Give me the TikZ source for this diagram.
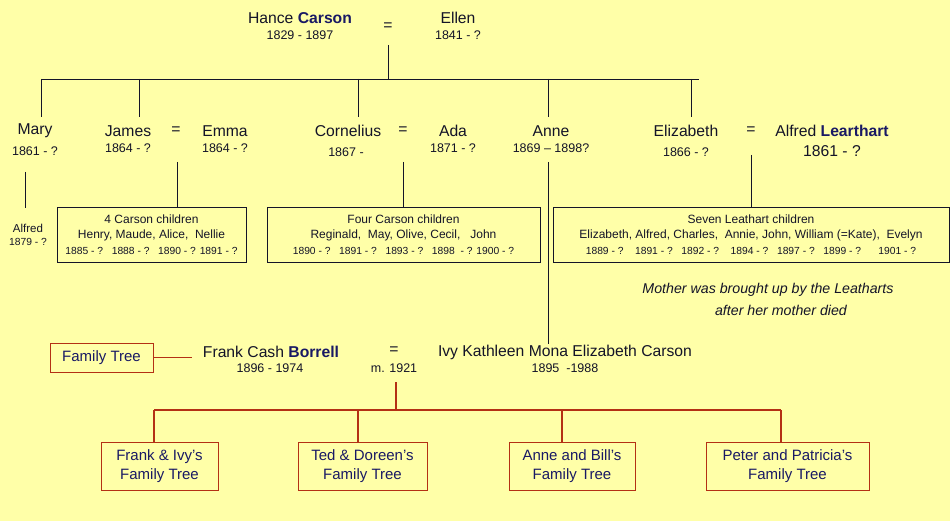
\documentclass[tikz,border=0pt]{standalone}
\usepackage{fontspec}
\setmainfont{Liberation Sans}
\usetikzlibrary{positioning}
\definecolor{paper}{RGB}{255,255,168}
\definecolor{ink}{RGB}{20,20,40}
\definecolor{navy}{RGB}{25,25,100}
\definecolor{rust}{RGB}{180,48,20}
\newcommand{\surname}[1]{\textbf{\color{navy}#1}}
\newcommand{\yrs}{\fontsize{10.3}{12}\selectfont}

\begin{document}
\begin{tikzpicture}[x=1pt,y=-1pt,
  nm/.style={inner sep=0pt,text=ink,font=\fontsize{15.7}{17}\selectfont},
  yr/.style={inner sep=0pt,text=ink,font=\fontsize{12.5}{14}\selectfont},
  kids/.style={draw=ink,line width=0.9pt,inner sep=0pt,minimum height=55,align=center,text=ink,font=\fontsize{12}{15.5}\selectfont},
  tree/.style={draw=rust,line width=1pt,inner sep=0pt,align=center,text=navy,font=\fontsize{15}{19}\selectfont},
  link/.style={draw=ink,line width=0.9pt},
  rlink/.style={draw=rust,line width=1.1pt}]
  \useasboundingbox[fill=paper] (0,0) rectangle (950,521);

  % parents
  \node[nm] (hance) at (300,18){Hance \surname{Carson}};
  \node[yr] (hanceY) at (300,35){1829 - 1897};
  \node[nm] (eqTop) at (388,27){=};
  \node[nm] (ellen) at (458,18){Ellen};
  \node[yr] (ellenY) at (458,35){1841 - ?};

  \coordinate (barL) at (41,79);
  \coordinate (barR) at (699,79);
  \coordinate (topX) at (388,45);
  \draw[link] (topX) -- (topX |- barL);
  \draw[link] (barL) -- (barR);

  % children of Hance and Ellen
  \node[nm] (mary) at (35,131){Mary};
  \node[yr] (maryY) at (35,151){1861 - ?};
  \node[nm] (james) at (128,131){James};
  \node[yr] (jamesY) at (128,148){1864 - ?};
  \node[nm] (eqJ) at (176,131){=};
  \node[nm] (emma) at (225,131){Emma};
  \node[yr] (emmaY) at (225,148){1864 - ?};
  \node[nm] (corn) at (348,131){Cornelius};
  \node[yr] (cornY) at (346,152){1867 -};
  \node[nm] (eqC) at (403,131){=};
  \node[nm] (ada) at (453,131){Ada};
  \node[yr] (adaY) at (453,148){1871 - ?};
  \node[nm] (anne) at (551,131){Anne};
  \node[yr] (anneY) at (551,148){1869 -- 1898?};
  \node[nm] (eliz) at (686,131){Elizabeth};
  \node[yr] (elizY) at (686,152){1866 - ?};
  \node[nm] (eqE) at (751,131){=};
  \node[nm] (alfred) at (832,131){Alfred \surname{Learthart}};
  \node[nm] (alfredY) at (832,151){1861 - ?};

  \foreach \dx in {41,139,358,548,691}
    \draw[link] (\dx,79) -- (\dx,117);

  % grandchildren
  \node[inner sep=0pt,text=ink,font=\fontsize{11.5}{13}\selectfont,align=center] (alfredC) at (28,235){Alfred\\{\yrs 1879 - ?}};
  \coordinate (maryX) at (25,172);
  \coordinate (maryE) at (25,208);
  \draw[link] (maryX) -- (maryE);

  \node[kids,minimum width=189] (kidsJ) at (151.5,234.5){4 Carson children\\
    Henry, Maude, Alice,\ \ Nellie\\
    {\yrs 1885 - ?\ \ \ 1888 - ?\ \ \ 1890 - ? 1891 - ?}};
  \node[kids,minimum width=273] (kidsC) at (403.5,234.5){Four\ Carson children\\
    Reginald,\ \ May,\ Olive,\ Cecil,\ \ \ John\\
    {\yrs 1890 - ?\ \ \ 1891 - ?\ \ \ 1893 - ?\ \ \ 1898\ \ - ? 1900 - ?}};
  \node[kids,minimum width=396] (kidsE) at (751,234.5){Seven\ Leathart children\\
    Elizabeth, Alfred, Charles,\ \ Annie,\ John, William (=Kate),\ \ Evelyn\\
    {\yrs 1889 - ?\ \ \ \ 1891 - ?\ \ \ 1892 - ?\ \ \ \ 1894 - ?\ \ \ 1897 - ?\ \ \ 1899 - ?\ \ \ \ \ \ 1901 - ?}};
  \coordinate (jX) at (177,162);
  \coordinate (cX) at (403,162);
  \coordinate (eX) at (751,155);
  \draw[link] (jX) -- (jX |- kidsJ.north);
  \draw[link] (cX) -- (cX |- kidsC.north);
  \draw[link] (eX) -- (eX |- kidsE.north);

  \node[inner sep=0pt,text=ink,font=\fontsize{14.2}{17}\selectfont\itshape] (note) at (768,290){Mother was brought up by the Leatharts};
  \node[inner sep=0pt,text=ink,font=\fontsize{14.2}{17}\selectfont\itshape] (note2) at (781,310){after her mother died};

  % Frank and Ivy
  \node[nm] (frank) at (271,352){Frank Cash \surname{Borrell}};
  \node[yr] (frankY) at (270,368){1896 - 1974};
  \node[nm] (eqF) at (394,351){=};
  \node[yr] (wed) at (394,368){m. 1921};
  \node[nm] (ivy) at (565,352){Ivy Kathleen Mona Elizabeth Carson};
  \node[yr] (ivyY) at (565,368){1895\ \ -1988};
  \coordinate (aX) at (548,162);
  \draw[link] (aX) -- (aX |- ivy.north);

  \node[tree,minimum width=103,minimum height=29] (ftree) at (101.5,357.5){Family Tree};
  \coordinate (ftEnd) at (192,357.5);
  \draw[rlink] (ftree.east) -- (ftEnd);

  \node[tree,minimum width=117,minimum height=48] (t1) at (159.5,466){Frank \& Ivy's\\Family Tree};
  \node[tree,minimum width=129,minimum height=48] (t2) at (362.5,466){Ted \& Doreen's\\Family Tree};
  \node[tree,minimum width=126,minimum height=48] (t3) at (572,466){Anne and Bill's\\Family Tree};
  \node[tree,minimum width=163,minimum height=48] (t4) at (787.5,466){Peter and Patricia's\\Family Tree};

  \coordinate (rbarL) at (154,410);
  \coordinate (rbarR) at (781,410);
  \coordinate (wX) at (396,382);
  \draw[rlink] (wX) -- (wX |- rbarL);
  \draw[rlink] (rbarL) -- (rbarR);
  \foreach \dx/\tb in {154/t1,358/t2,562/t3,781/t4}{
    \coordinate (dr) at (\dx,410);
    \draw[rlink] (dr) -- (dr |- \tb.north);
  }
\end{tikzpicture}
\end{document}
